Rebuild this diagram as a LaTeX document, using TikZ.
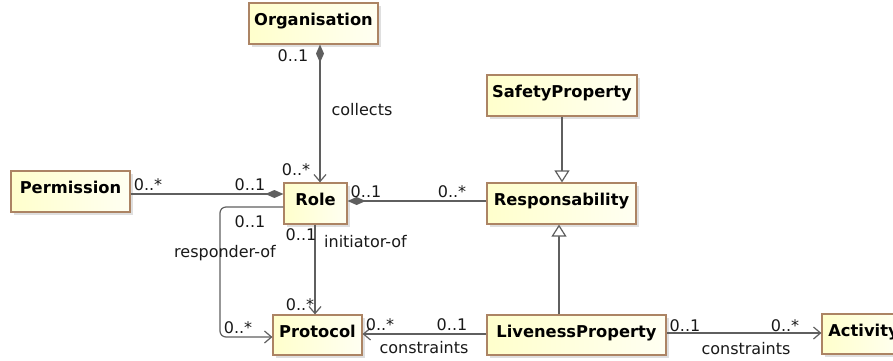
\documentclass[tikz,border=0pt]{standalone}
\usepackage{fontspec}
\setmainfont{DejaVu Sans}
\usetikzlibrary{arrows.meta,shadows}

\definecolor{clsfill}{RGB}{255,255,204}
\definecolor{clsfade}{RGB}{255,255,242}
\definecolor{clsborder}{RGB}{172,132,100}
\definecolor{wireclr}{RGB}{95,95,95}

\begin{document}
\begin{tikzpicture}[x=1pt,y=-1pt,
  cls/.style={draw=clsborder, line width=1.2pt, left color=clsfill, right color=clsfade,
    font=\fontsize{16.3}{19}\selectfont\bfseries, inner xsep=0pt, inner ysep=0pt,
    text height=22pt, text depth=19pt, minimum width=#1,
    drop shadow={shadow xshift=3pt, shadow yshift=-3pt, fill=black!25}},
  lbl/.style={font=\fontsize{16}{19}\selectfont, inner sep=0pt, anchor=base, text=black!90},
  edge/.style={draw=wireclr, line width=1.2pt},
  compdiam/.tip={Diamond[length=18pt, width=8pt, fill=wireclr]},
  openv/.tip={Straight Barb[length=7pt, width=12pt]},
  hollowtri/.tip={Triangle[open, length=12pt, width=15pt, fill=white]}]

\useasboundingbox (0,0) rectangle (893,360);
\clip (0,0) rectangle (893,360);

% classes
\node[cls=129pt] (org)   at (313.5,23.5)  {Organisation};
\node[cls=150pt] (safe)  at (562,95.5)    {SafetyProperty};
\node[cls=119pt] (perm)  at (70.5,191.5)  {Permission};
\node[cls=63pt]  (role)  at (315.5,203.5) {Role};
\node[cls=149pt] (resp)  at (561.5,203.5) {Responsability};
\node[cls=89pt, text depth=18pt]  (proto) at (317.5,335) {Protocol};
\node[cls=179pt, text depth=18pt] (live)  at (576.5,335) {LivenessProperty};
\node[cls=83pt, text depth=18pt]  (act)   at (863.5,334) {Activity};

% Organisation collects roles
\draw[edge, compdiam-openv] ([xshift=6.5pt]org.south) -- ([xshift=4.5pt]role.north);
\node[lbl] at (293,61)  {0..1};
\node[lbl] at (362,115) {collects};
\node[lbl] at (296,175) {0..*};

% Permission -- Role
\draw[edge, -compdiam] ([yshift=-2.5pt]perm.east) -- ([yshift=9.5pt]role.west);
\node[lbl] at (148,190) {0..*};
\node[lbl] at (250,190) {0..1};

% responder-of
\draw[edge, rounded corners=6pt, -openv] ([yshift=-3.5pt]role.west) -| (220,337) -- ([yshift=-2pt]proto.west);
\node[lbl] at (250,227) {0..1};
\node[lbl] at (225,257) {responder-of};
\node[lbl] at (238,333) {0..*};

% initiator-of
\draw[edge, -openv] ([xshift=-0.5pt]role.south) -- ([xshift=-2.5pt]proto.north);
\node[lbl] at (301,240) {0..1};
\node[lbl] at (365.5,247) {initiator-of};
\node[lbl] at (300,310) {0..*};

% Role -- Responsability
\draw[edge, compdiam-] ([yshift=2.5pt]role.east) -- ([yshift=2.5pt]resp.west);
\node[lbl] at (366,197) {0..1};
\node[lbl] at (452,197) {0..*};

% generalisations
\draw[edge, -hollowtri] (safe.south) -- ([xshift=0.5pt]resp.north);
\draw[edge, -hollowtri] ([xshift=-17.5pt]live.north) -- ([xshift=-2.5pt]resp.south);

% LivenessProperty constraints
\draw[edge, -openv] ([yshift=1pt]live.west) -- ([yshift=1pt]proto.east);
\node[lbl] at (380,330) {0..*};
\node[lbl] at (452,330) {0..1};
\node[lbl] at (424,353) {constraints};

\draw[edge, -openv] ([yshift=2pt]live.east) -- ([yshift=1pt]act.west);
\node[lbl] at (685,331) {0..1};
\node[lbl] at (785,331) {0..*};
\node[lbl] at (746,354) {constraints};
\end{tikzpicture}
\end{document}
